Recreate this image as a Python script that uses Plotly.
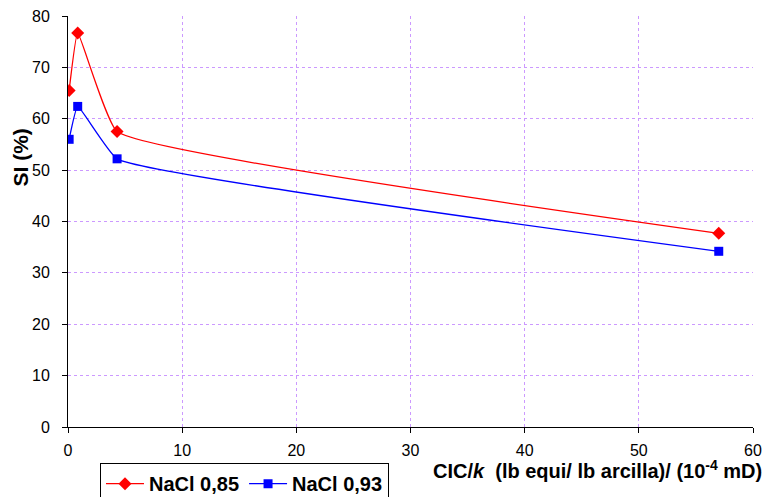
import plotly.graph_objects as go

# CIC/k values and swelling index for the two brine concentrations
x_vals = [0.1, 0.85, 4.3, 57.0]
si_085 = [65.5, 76.7, 57.5, 37.7]
si_093 = [56.0, 62.4, 52.2, 34.2]

x_ticks = [0, 10, 20, 30, 40, 50, 60]
y_ticks = [0, 10, 20, 30, 40, 50, 60, 70, 80]

FONT = "Liberation Sans, Arial, sans-serif"
GRID = "#cc99ff"
SMOOTH = 0.32

fig = go.Figure()
fig.add_trace(go.Scatter(
    x=x_vals, y=si_085, name="NaCl 0,85", mode="lines+markers",
    line=dict(color="#ff0000", width=1.3, shape="spline", smoothing=SMOOTH),
    marker=dict(symbol="diamond", size=10, color="#ff0000"),
))
fig.add_trace(go.Scatter(
    x=x_vals, y=si_093, name="NaCl 0,93", mode="lines+markers",
    line=dict(color="#0000ff", width=1.3, shape="spline", smoothing=SMOOTH),
    marker=dict(symbol="square", size=9, color="#0000ff"),
))

axis_common = dict(
    showgrid=True, gridcolor=GRID, griddash="3px,3px", gridwidth=1,
    showline=True, linecolor="black", linewidth=1,
    ticks="outside", ticklen=5, tickcolor="black",
    zeroline=False, tickfont=dict(size=16),
)

fig.update_layout(
    width=765, height=497,
    margin=dict(l=68, r=12, t=16, b=70, autoexpand=False),
    paper_bgcolor="white", plot_bgcolor="white",
    font=dict(family=FONT, size=16, color="black"),
    showlegend=True,
    legend=dict(
        orientation="h", x=0.0467, y=-0.088, xanchor="left", yanchor="top",
        bordercolor="black", borderwidth=1, itemwidth=38,
        font=dict(family=FONT, size=20, color="black", weight="bold"),
    ),
    xaxis=dict(range=[0, 60], tickvals=x_ticks, ticklabelstandoff=4, **axis_common),
    yaxis=dict(range=[0, 80], tickvals=y_ticks, ticklabelstandoff=9, **axis_common),
)

# Axis titles
fig.add_annotation(
    xref="paper", yref="paper", x=1.016, y=-0.1046,
    xanchor="right", yanchor="middle", showarrow=False,
    text="<b>CIC/<i>k</i>  (lb equi/ lb arcilla)/ (10<sup>-4</sup> mD)</b>",
    font=dict(family=FONT, size=20, color="black"),
)
fig.add_annotation(
    xref="paper", yref="paper", x=-0.069, y=0.655,
    xanchor="center", yanchor="middle", showarrow=False, textangle=-90,
    text="<b>SI (%)</b>",
    font=dict(family=FONT, size=21, color="black"),
)

fig.write_html("out.html")
